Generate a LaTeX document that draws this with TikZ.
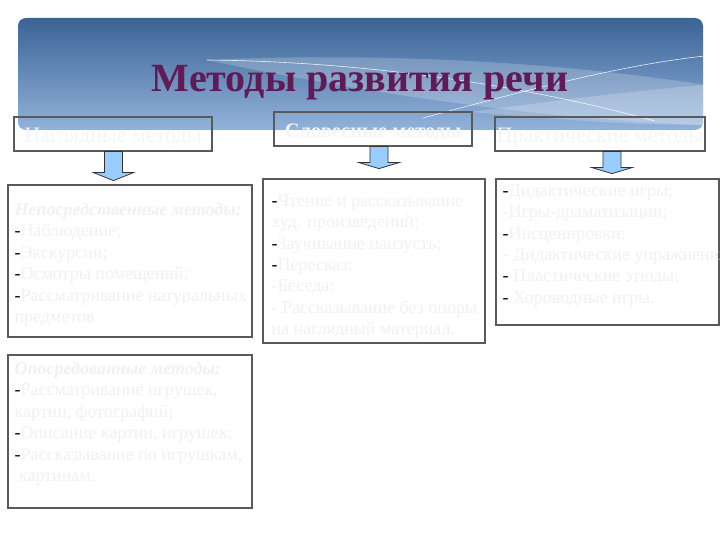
\documentclass[tikz,border=0pt]{standalone}
\usepackage{fontspec}
\setmainfont{Liberation Serif}
\usetikzlibrary{calc}
\definecolor{bannertop}{RGB}{58,99,150}
\definecolor{bannerbottom}{RGB}{146,178,218}
\definecolor{titlepurple}{RGB}{96,26,86}
\definecolor{faint}{RGB}{241,241,241}
\definecolor{arrowblue}{RGB}{153,204,255}
\definecolor{boxgray}{RGB}{90,90,90}
\tikzset{
  headbox/.style={rectangle, draw=boxgray, line width=1.2pt, inner sep=0pt, text height=26pt, text depth=8pt, anchor=base, text=white!96!black, font=\fontsize{22}{26}\selectfont},
  listbox/.style={rectangle, draw=boxgray, line width=1.2pt, fill=white, inner sep=0pt},
  listtext/.style={anchor=north west, inner sep=0pt, align=left, text=faint, font=\fontsize{18}{21.4}\selectfont},
  blockarrow/.style={draw=black!80, line width=0.8pt, fill=arrowblue, line join=miter}
}
\newcommand{\bd}{\textcolor{black}{-}}
\newcommand{\methodhead}[4] {\node at (#1) (#2) [headbox, minimum width=#3] {#4};}
\newcommand{\methodlist}[4] {\node at (#1) (#2) [listbox, minimum width=#3, minimum height=#4] {};}
\newcommand{\methodarrow}[3] {\draw [blockarrow] (#1) ++(-9,0) -- ++(0,#2) -- ++(-11,0) -- ++(20,#3) -- ++(20,-#3) -- ++(-11,0) -- ++(0,-#2) -- cycle;}
\begin{document}
\begin{tikzpicture}[x=1pt,y=-1pt]
\useasboundingbox (0,0) rectangle (720,540);

% banner
\node at (360.5,74) (banner) [rectangle, rounded corners=8pt, minimum width=685, minimum height=112, top color=bannertop, bottom color=bannerbottom] {};
\begin{scope}
\clip [rounded corners=8pt] (18,18) rectangle (703,130);
\fill [white, opacity=0.2] (207,60) .. controls (380,52) and (560,62) .. (705,85) -- (705,125) .. controls (600,122) and (420,105) .. (207,60);
\fill [white, opacity=0.2] (470,112) .. controls (560,100) and (640,90) .. (705,85) -- (705,125) .. controls (620,124) .. (470,112);
\draw [white, opacity=0.85, line width=0.6pt] (207,60) .. controls (400,62) and (560,95) .. (655,121);
\draw [white, opacity=0.85, line width=0.6pt] (423,118) .. controls (520,92) and (620,65) .. (705,56);
\end{scope}
\node at (360,92) (title) [anchor=base, text=titlepurple, font=\fontsize{40}{44}\selectfont\bfseries] {Методы развития речи};

% method headers
\methodhead{113,143}{vis}{198}{Наглядные методы}
\methodhead{373,138}{verb}{198}{\bfseries\fontsize{20.5}{24}\selectfont Словесные методы}
\methodhead{600,143}{prac}{210}{Практические методы}

% lists
\methodlist{130,261}{visdir}{244}{152}
\methodlist{130,431.5}{visind}{244}{153}
\methodlist{374,261}{verblist}{222}{164}
\methodlist{607.5,252}{praclist}{223}{146}

% arrows
\methodarrow{$(vis.south)+(0.5,0)$}{21}{8}
\methodarrow{$(verb.south)+(6,0)$}{16}{6}
\methodarrow{$(prac.south)+(12,0)$}{16}{6}

\node at ($(visdir.north west)+(7,18.5)$) (visdirtext) [listtext] {\textbf{\textit{Непосредственные методы:}}\\
\bd Наблюдение;\\
\bd Экскурсии;\\
\bd Осмотры помещений;\\
\bd Рассматривание натуральных\\
предметов};
\node at ($(visind.north west)+(7,7.5)$) (visindtext) [listtext] {\textbf{\textit{Опосредованные методы:}}\\
\bd Рассматривание игрушек,\\
картин, фотографий;\\
\bd Описание картин, игрушек;\\
\bd Рассказывание по игрушкам,\\
\ картинам.};
\node at ($(verblist.north west)+(9,16)$) (verbtext) [listtext] {\bd Чтение и рассказывание\\
худ. произведений;\\
\bd Заучивание наизусть;\\
\bd Пересказ;\\
-Беседа;\\
- Рассказывание без опоры\\
на наглядный материал.};
\node at ($(praclist.north west)+(7,6)$) (practext) [listtext] {\bd Дидактические игры;\\
-Игры-драматизации;\\
\bd Инсценировки;\\
- Дидактические упражнения;\\
\bd{} Пластические этюды;\\
\bd{} Хороводные игры.};

\end{tikzpicture}
\end{document}
